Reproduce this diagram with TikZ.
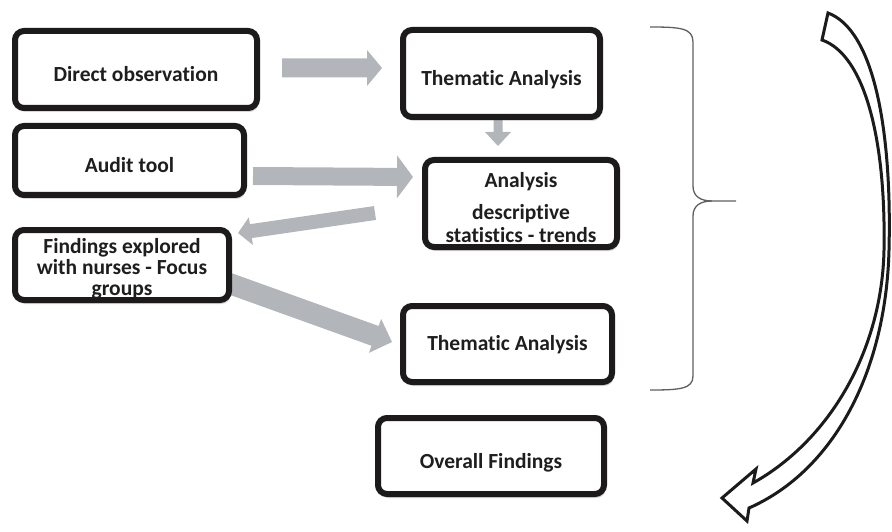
\documentclass[tikz,border=0pt]{standalone}
\usepackage{fontspec}
\setmainfont{Carlito}[Ligatures={NoCommon}]
\usetikzlibrary{calc,backgrounds,shadows}

\definecolor{flowgray}{RGB}{178,182,186}
\definecolor{boxline}{RGB}{28,26,26}
\definecolor{bracegray}{RGB}{95,95,95}
\definecolor{inkgray}{RGB}{30,30,30}

\tikzset{
  x=1pt, y=-1pt,
  box/.style={draw=boxline, line width=6pt, rounded corners=9pt, fill=white,
    inner sep=0pt, text=inkgray, align=center,
    font=\fontsize{21.5}{23}\selectfont\bfseries,
    text height=24pt, text depth=0pt,
    drop shadow={shadow xshift=1.5pt, shadow yshift=-4pt, opacity=0.22, fill=black!70}},
  boxtext/.style={inner sep=0pt, text=inkgray, align=center,
    font=\fontsize{21.5}{21}\selectfont\bfseries},
  flow/.style={fill=flowgray},
  brace/.style={draw=bracegray, line width=1.3pt},
  bigarrow/.style={draw=boxline, line width=3pt, fill=white, line join=miter}
}

% Broad grey block arrow: start, end, half shaft width, half head width, head length
\newcommand\flowarrow[5]{%
  \fill[flow] let \p1=#1, \p2=#2,
      \n1={atan2(\y2-\y1,\x2-\x1)}, \n2={veclen(\x2-\x1,\y2-\y1)} in
    [shift={(\p1)}, rotate=\n1]
    (0,-#3) -- ({\n2-#5},-#3) -- ({\n2-#5},-#4) -- (\n2,0)
    -- ({\n2-#5},#4) -- ({\n2-#5},#3) -- (0,#3) -- cycle;}

\begin{document}
\begin{tikzpicture}
\useasboundingbox (0,0) rectangle (892,532);

% Source boxes
\node[box, minimum width=242pt, minimum height=77pt] (direct) at (136,69.5) {Direct observation};
\node[box, minimum width=229pt, minimum height=69pt] (audit) at (129.5,160.5) {Audit tool};
\node[box, minimum width=214pt, minimum height=70pt] (find) at (122,265) {};
\node[boxtext] (find-t) at ($(find.center)+(0,3.8)$) {Findings explored\\with nurses - Focus\\groups};

% Analysis boxes
\node[box, minimum width=197pt, minimum height=87pt] (thm1) at (501.5,73.5) {Thematic Analysis};
\node[box, minimum width=192pt, minimum height=87pt] (ana) at (521,203.5) {};
\node[boxtext, text height=13.5pt, text depth=0pt] (ana-a) at ($(ana.center)+(0,-22.5)$) {Analysis};
\node[boxtext, text height=13.5pt, text depth=0pt] (ana-b) at ($(ana.center)+(0,9.5)$) {descriptive};
\node[boxtext, text height=13.5pt, text depth=0pt] (ana-c) at ($(ana.center)+(0,32.5)$) {statistics - trends};
\node[box, minimum width=209pt, minimum height=76pt, text height=13.5pt] (thm2) at (507.5,344) {Thematic Analysis};

% Result
\node[box, minimum width=226pt, minimum height=76pt] (overall) at (491,456) {Overall Findings};

% Grey flow arrows behind the boxes
\begin{scope}[on background layer]
  \flowarrow{($(direct.east)+(22,-1.5)$)}{($(thm1.west)+(-18,-5.5)$)}{9.5}{18}{15}
  \flowarrow{($(audit.east)+(6,15.5)$)}{($(ana.west)+(-9,-26.5)$)}{9}{21.5}{16}
  \flowarrow{($(ana.west)+(-47,9.5)$)}{($(find.east)+(6,-32)$)}{7}{14}{13}
  \flowarrow{($(find.east)+(-4,18)$)}{($(thm2.west)+(-8,-2)$)}{10.5}{18}{18}
  \flowarrow{($(thm1.south)+(-3.5,-2)$)}{($(thm1.south)+(-3.5,26)$)}{4.5}{13}{14}
\end{scope}

% Brace grouping the analyses
\coordinate (brace-tip) at (736,201);
\draw[brace] (650,27) .. controls (680,27) and (693,28) .. (693,42)
  -- (693,186) .. controls (693,196) and (700,201) .. (712,201) -- (brace-tip);
\draw[brace] (712,201) .. controls (700,201) and (693,206) .. (693,216)
  -- (693,376) .. controls (693,389) and (680,390) .. (650,390);

% Curved outline arrow running down the right side
\draw[bigarrow]
  (828,13) .. controls (874,30) and (892,130) .. (889,250)
  .. controls (886,370) and (835,470) .. (749,508)
  -- (747,521) -- (722,498) -- (756,469) -- (753,483)
  .. controls (830,440) and (882,350) .. (884,250)
  .. controls (886,140) and (865,55) .. (822,40) -- cycle;

\end{tikzpicture}
\end{document}
